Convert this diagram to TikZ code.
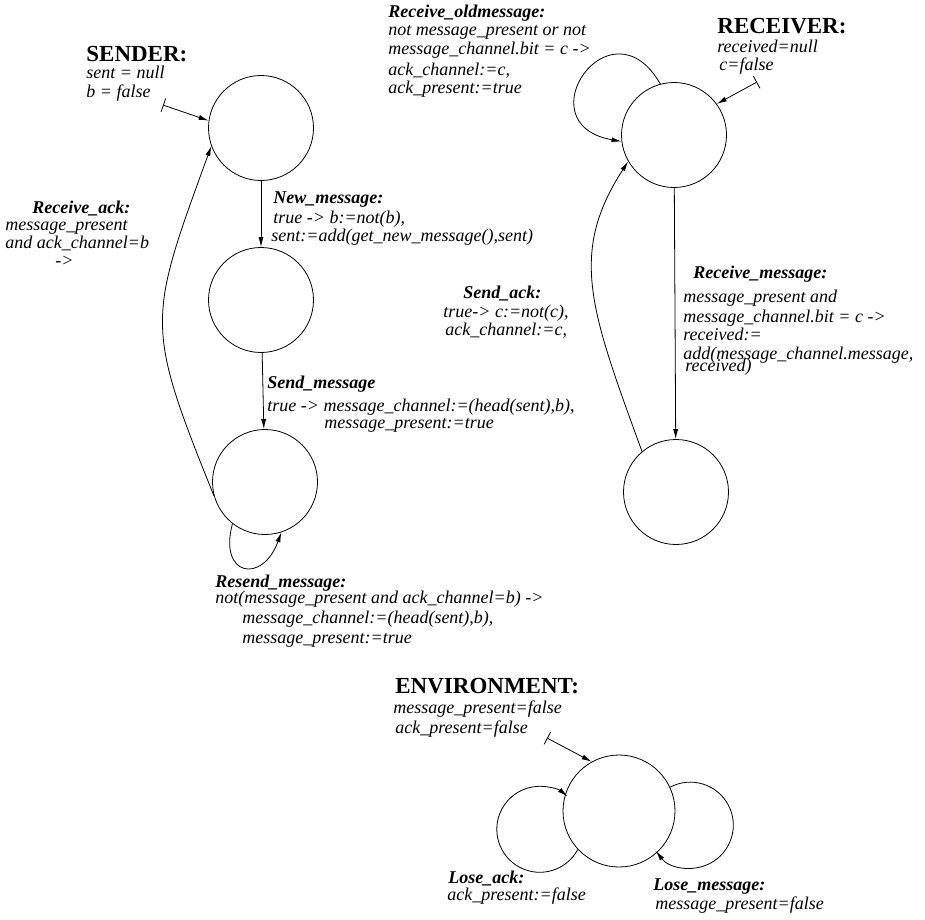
\documentclass[tikz,border=0pt]{standalone}
\usepackage{fontspec}
\setmainfont{Liberation Serif}
\usetikzlibrary{arrows.meta}

\begin{document}
\begin{tikzpicture}[x=1pt, y=1pt, line width=0.8pt,
  >={Latex[length=10pt,width=5pt]},
  state/.style={circle, draw, minimum size=105pt, inner sep=0pt},
  hdr/.style={font=\fontsize{23}{23}\selectfont\bfseries, anchor=base west, inner sep=0pt},
  lbl/.style={font=\fontsize{18}{18.5}\selectfont\itshape, align=left, anchor=base west, inner sep=0pt},
  init/.style={arrows={Bar[width=14pt]}->}]
\useasboundingbox (0,0) rectangle (925,-919);

% sender
\node[state] (s0) at (261,-128) {};
\node[state] (s1) at (261,-300) {};
\node[state] (s2) at (265,-482) {};
\coordinate (sin) at (163,-105);
\draw[init] (sin) -- (s0.172);
\draw[->] (s0) -- (s1);
\draw[->] (s1) -- (s2);
\draw[->] (s2.195) .. controls +(112:185) and +(250:185) .. (s0.200);
\draw[->] (s2.232) .. controls +(255:55) and +(250:55) .. (s2.288);

% labels sit on the baseline of their last line
\node[hdr] (sendhdr) at (86,-61) {SENDER:};
\node[lbl] (sendinit) at (86,-97) {sent = null\\[0.5pt] b = false};
\node[lbl] (newmsg) at (271,-241.5) {\hspace*{2pt}\textbf{New\_message:}\\[1.5pt]
  \hspace*{2pt}true -> b:=not(b),\\ sent:=add(get\_new\_message(),sent)};
\node[lbl] (sendmsg) at (267,-428) {\textbf{Send\_message}\\[4.5pt]
  true -> message\_channel:=(head(sent),b),\\[-1.5pt] \hspace*{57pt}message\_present:=true};
\node[lbl] (recack) at (5,-266) {\hspace*{27pt}\textbf{Receive\_ack:}\\[-1.5pt]
  message\_present\\ and ack\_channel=b\\[-1pt] \hspace*{50pt}->};
\node[lbl] (resend) at (215,-643) {\textbf{Resend\_message:}\\[-2.5pt]
  not(message\_present and ack\_channel=b) ->\\[1.5pt]
  \hspace*{27pt}message\_channel:=(head(sent),b),\\[1.5pt]
  \hspace*{27pt}message\_present:=true};

% receiver
\node[state] (r0) at (674,-135) {};
\node[state] (r1) at (676,-492) {};
\coordinate (rin) at (757,-82);
\draw[init] (rin) -- (r0.36);
\draw[->] (r0) -- (r1);
\draw[->] (r1.130) .. controls +(110:150) and +(237:110) .. (r0.210);
\draw[->] (r0.105) .. controls +(120:100) and +(170:100) .. (r0.187);

\node[hdr] (rechdr) at (717,-33) {RECEIVER:};
\node[lbl] (recinit) at (717,-70) {received=null\\[-0.5pt] \hspace*{2pt}c=false};
\node[lbl] (oldmsg) at (388,-93.5) {\textbf{Receive\_oldmessage:}\\
  not message\_present or not\\ message\_channel.bit = c ->\\[2.5pt]
  ack\_channel:=c,\\ ack\_present:=true};
\node[lbl] (recmsg) at (683,-371) {\hspace*{10pt}\textbf{Receive\_message:}\\[5.5pt]
  message\_present and\\[1.5pt] message\_channel.bit = c ->\\ received:=\\
  add(message\_channel.message,\\[-6.5pt] \hspace*{2pt}received)};
\node[lbl] (sendack) at (443,-335.5) {\hspace*{20pt}\textbf{Send\_ack:}\\[0.5pt]
  true-> c:=not(c),\\ \hspace*{2pt}ack\_channel:=c,};

% environment
\node[state, minimum size=112pt] (env) at (619,-811) {};
\coordinate (ein) at (547,-738);
\draw[init] (ein) -- (env.119);
\draw[->] (env.223) arc[start angle=-28, end angle=-310, radius=43pt];
\draw[->] (env.25) arc[start angle=118, end angle=-143, radius=43pt];

\node[hdr] (envhdr) at (395,-693) {ENVIRONMENT:};
\node[lbl] (envinit) at (393,-733) {message\_present=false\\[1.5pt] \hspace*{2pt}ack\_present=false};
\node[lbl] (loseack) at (447,-900) {\hspace*{1pt}\textbf{Lose\_ack:}\\[-1.5pt] ack\_present:=false};
\node[lbl] (losemsg) at (653,-909) {\textbf{Lose\_message:}\\[0.5pt] \hspace*{2pt}message\_present=false};
\end{tikzpicture}
\end{document}
